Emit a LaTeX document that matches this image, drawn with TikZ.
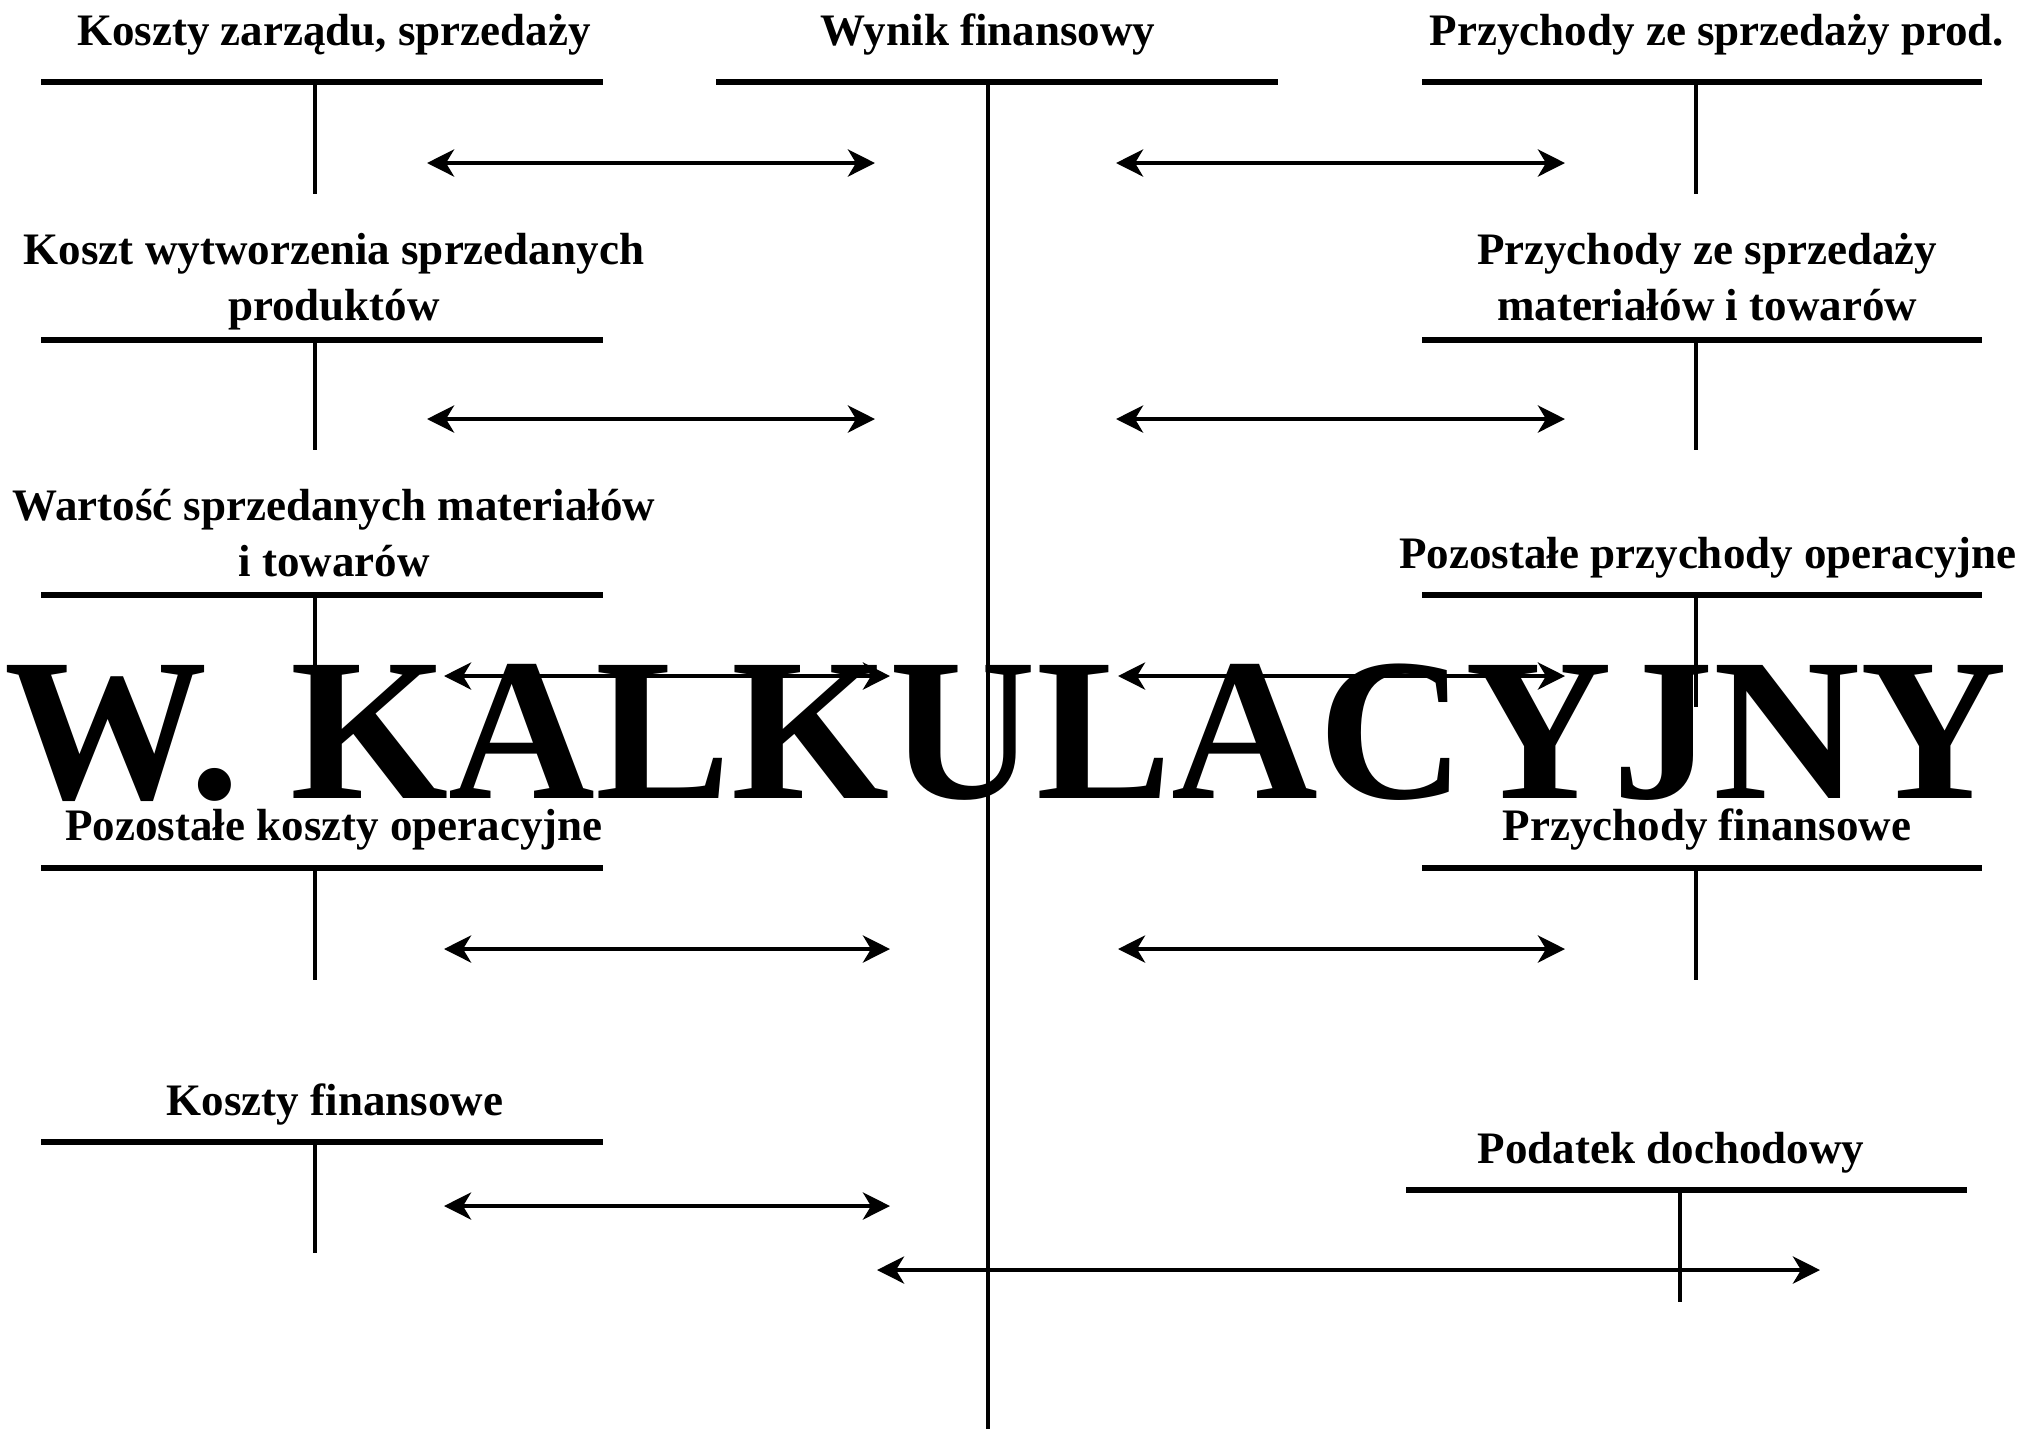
\documentclass[tikz,border=0pt]{standalone}
\usepackage{fontspec}
\setmainfont{Liberation Serif}
\usetikzlibrary{arrows.meta}

\begin{document}
\begin{tikzpicture}[x=0.01cm,y=-0.01cm,
  konto/.style={line width=1.9pt},
  trzon/.style={line width=1.4pt},
  arr/.style={{Stealth[length=0.27cm,width=0.27cm,inset=0.08cm]}-{Stealth[length=0.27cm,width=0.27cm,inset=0.08cm]},line width=1.3pt},
  lbl/.style={font=\fontsize{12.8}{15.9}\selectfont\bfseries,align=center,anchor=base,inner sep=0pt},
  tytul/.style={font=\fontsize{57.8}{60}\selectfont\bfseries,anchor=base,inner sep=0pt}
]
\useasboundingbox (0,0) rectangle (2026,1429);

% T-accounts: left end / right end / stem / line y / stem end
\foreach \xa/\xb/\xs/\y/\yb in {41/603/315/82/194, 41/603/315/340/450,
    41/603/315/595/707, 41/603/315/868/980, 41/603/315/1142/1253,
    1422/1982/1696/82/194, 1422/1982/1696/340/450, 1422/1982/1696/595/707,
    1422/1982/1696/868/980, 1406/1967/1680/1190/1302, 716/1278/988/82/1429}{
  \draw[konto] (\xa,\y) -- (\xb,\y);
  \draw[trzon] (\xs,\y) -- (\xs,\yb);
}

% Left column (two-line labels sit on the baseline of their last line)
\node[lbl] (kzs)  at (334,45)   {Koszty zarządu, sprzedaży};
\node[lbl] (kwsp) at (334,320)  {Koszt wytworzenia sprzedanych\\produktów};
\node[lbl] (wsm)  at (334,576)  {Wartość sprzedanych materiałów\\i towarów};
\node[lbl] (pko)  at (334,840)  {Pozostałe koszty operacyjne};
\node[lbl] (kf)   at (335,1115) {Koszty finansowe};
% Middle
\node[lbl] (wf)   at (988,45)   {Wynik finansowy};
% Right column
\node[lbl] (psp)  at (1717,45)  {Przychody ze sprzedaży prod.};
\node[lbl] (psm)  at (1707,320) {Przychody ze sprzedaży\\materiałów i towarów};
\node[lbl] (ppo)  at (1708,568) {Pozostałe przychody operacyjne};
\node[lbl] (pf)   at (1707,840) {Przychody finansowe};
\node[lbl] (pd)   at (1671,1163){Podatek dochodowy};

% Double arrows between the accounts and Wynik finansowy
\foreach \n/\xa/\xb/\y in {1/427/875/163, 2/427/875/419, 3/444/890/676,
    4/444/890/949, 5/444/890/1206, 6/1116/1565/163, 7/1116/1565/419,
    8/1118/1565/676, 9/1118/1565/949, 10/877/1820/1270}{
  \coordinate (s\n) at (\xa,\y);
  \coordinate (e\n) at (\xb,\y);
  \draw[arr] (s\n) -- (e\n);
}

% Title over everything
\node[tytul] (wk) at (1006,798) {W. KALKULACYJNY};
\end{tikzpicture}
\end{document}
